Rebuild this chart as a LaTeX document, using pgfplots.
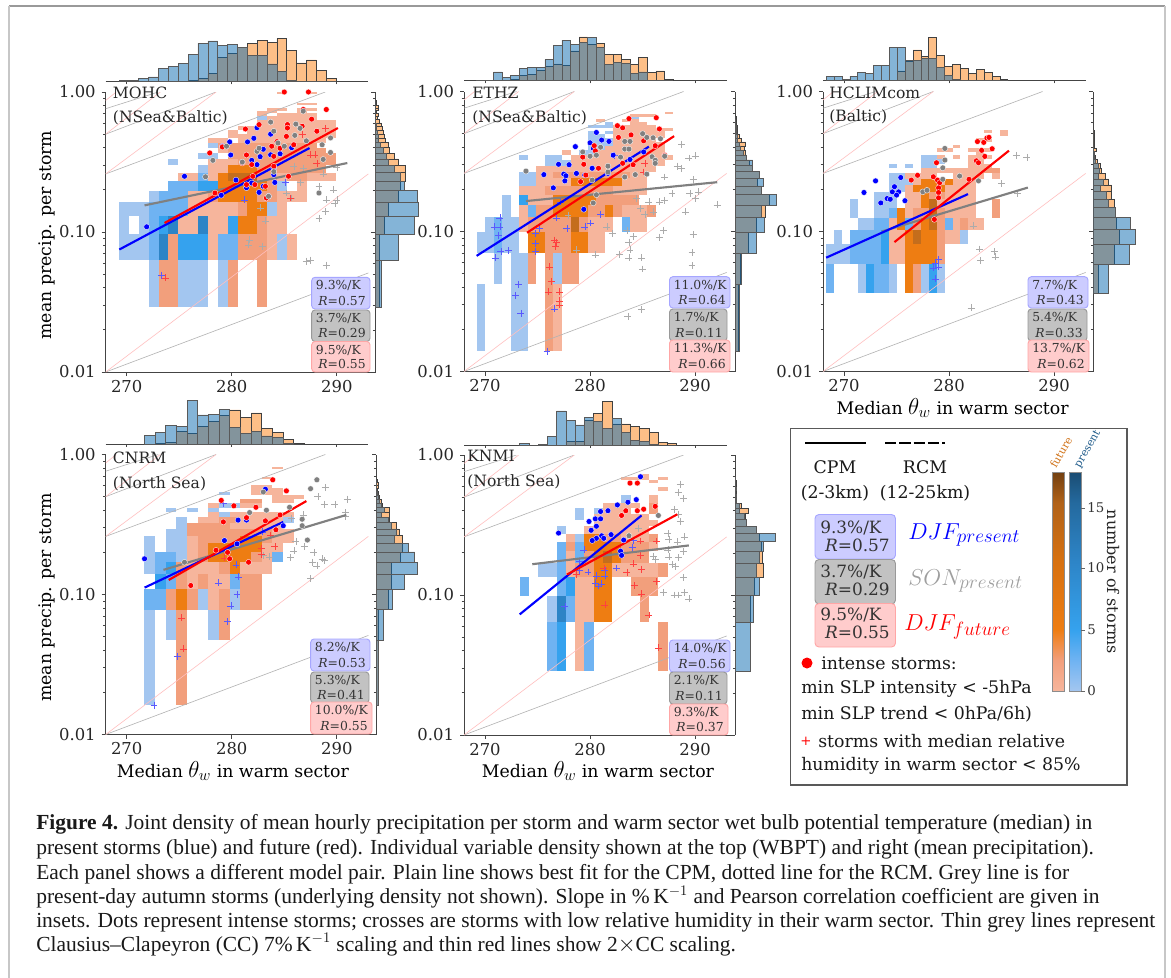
\documentclass[border=0pt]{standalone}
\usepackage{pgfplots}
\pgfplotsset{compat=1.18}
\usepackage{fontspec}
\setmainfont{DejaVu Serif}
\newfontfamily\capfont{Liberation Serif}
\definecolor{ha}{HTML}{A3C6F0}\definecolor{hb}{HTML}{6FB3F2}\definecolor{hc}{HTML}{35A2EE}\definecolor{hh}{HTML}{2D84C6}
\definecolor{hd}{HTML}{F6B59C}\definecolor{he}{HTML}{F29F7C}\definecolor{hf}{HTML}{EE7D12}\definecolor{hg}{HTML}{C46D1C}
\definecolor{histb}{RGB}{11,107,177}\definecolor{histo}{RGB}{253,191,135}
\definecolor{spine}{HTML}{444444}
\newcommand\px{0.75pt}
\newcommand\thw{{\fontsize{17}{18}\selectfont$\theta_w$}}
% one run of cells of a 2-D histogram: row k, columns j1..j2
\newcommand\cellrect[4]{%
 \pgfmathsetmacro\xa{\gx+\gd*#2}\pgfmathsetmacro\xb{\gx+\gd*(#3+1)}%
 \pgfmathsetmacro\ya{\gy+\gh*#1}\pgfmathsetmacro\yb{\gy+\gh*(#1+1)}%
 \edef\tmp{\noexpand\addplot[forget plot,draw=none,fill=#4] coordinates {(\xa,\ya)(\xb,\ya)(\xb,\yb)(\xa,\yb)} -- cycle;}\tmp}
\newcommand\Rw[2]{\foreach \ja/\jb/\cc in {#2}{\cellrect{#1}{\ja}{\jb}{\cc}}}
\newcommand\cclines{%
 \addplot[forget plot,black!30,line width=.45pt] coordinates {(268,.01)(293,.051)};
 \addplot[forget plot,black!30,line width=.45pt] coordinates {(268,.26)(288.9,1)};
 \addplot[forget plot,black!30,line width=.45pt] coordinates {(268,.5)(278.5,1)};
 \addplot[forget plot,black!30,line width=.45pt] coordinates {(268,.76)(273,1)};
 \addplot[forget plot,red!25,line width=.45pt] coordinates {(268,.01)(293,.26)};
 \addplot[forget plot,red!25,line width=.45pt] coordinates {(268,.26)(278.5,1)};
 \addplot[forget plot,red!25,line width=.45pt] coordinates {(268,.5)(273.2,1)};
 \addplot[forget plot,red!25,line width=.45pt] coordinates {(268,.87)(269,1)};}
\pgfplotsset{
 mainax/.style={scale only axis,anchor=south west,width=270*\px,height=280*\px,xmin=268,xmax=293.7,ymin=.01,ymax=1,
  axis x line*=bottom,axis y line*=left,axis line style={-,spine,line width=.7pt},tick style={spine,line width=.6pt},
  tick align=outside,xtick={270,280,290},xticklabels={270,280,290},ytick={.01,.1,1},yticklabels={0.01,0.10,1.00},
  major tick length=3pt,minor tick length=1.8pt,
  ticklabel style={font=\fontsize{12.3}{14}\selectfont,text=black!85},
  xticklabel style={yshift=.5pt},yticklabel style={xshift=-1pt},clip mode=individual},
 topax/.style={scale only axis,anchor=south west,width=262.5*\px,height=46*\px,xmin=268,xmax=293,ymin=0,ymax=14.2,
  axis y line=none,axis x line*=bottom,axis line style={-,spine,line width=.7pt},tick style={spine,line width=.5pt},
  tick align=outside,xtick={270,280,290},xticklabels={},major tick length=2pt},
 rightax/.style={scale only axis,anchor=south west,width=45*\px,height=280*\px,ymin=.01,ymax=1,xmin=0,xmax=14,
  axis x line=none,axis y line*=left,axis line style={-,spine,line width=.7pt},tick style={spine,line width=.5pt},
  tick align=outside,ytick={.01,.1,1},yticklabels={},major tick length=3pt,minor tick length=1.6pt},
 ob/.style={ybar interval,fill=histo,draw=black!75,line width=.5pt,forget plot},
 bb/.style={ybar interval,fill=histb,fill opacity=.5,draw=black!65,line width=.5pt,forget plot},
 orh/.style={xbar interval,fill=histo,draw=black!75,line width=.5pt,forget plot},
 brh/.style={xbar interval,fill=histb,fill opacity=.5,draw=black!65,line width=.5pt,forget plot},
 bfit/.style={blue,line width=1.6pt,forget plot},rfit/.style={red,line width=1.6pt,forget plot},gfit/.style={black!50,line width=1.6pt,forget plot},
 bdot/.style={only marks,mark=*,mark size=2.2pt,mark options={fill=blue,draw=white,line width=.25pt},forget plot},
 rdot/.style={only marks,mark=*,mark size=2.2pt,mark options={fill=red,draw=white,line width=.25pt},forget plot},
 gdot/.style={only marks,mark=*,mark size=2.2pt,mark options={fill=black!50,draw=white,line width=.25pt},forget plot},
 bcr/.style={only marks,mark=+,mark size=2.6pt,mark options={draw=blue!65,line width=.3pt},forget plot},
 rcr/.style={only marks,mark=+,mark size=2.6pt,mark options={draw=red!75,line width=.3pt},forget plot},
 gcr/.style={only marks,mark=+,mark size=2.6pt,mark options={draw=black!33,line width=.3pt},forget plot},
}
\tikzset{ibl/.style={draw=blue!35,fill=blue!20,rounded corners=2.5pt,line width=.7pt},
 igr/.style={draw=black!40,fill=black!24,rounded corners=2.5pt,line width=.7pt},
 ird/.style={draw=red!35,fill=red!20,rounded corners=2.5pt,line width=.7pt},
 plab/.style={anchor=west,font=\fontsize{11.7}{14}\selectfont,text=black!85,inner sep=0pt}}
\newcommand\ibox[7]{\draw[#5] (#1,#3) rectangle (#2,#4);
 \node[anchor=west,inner sep=0pt,font=\fontsize{9.3}{11}\selectfont,text=black!80] at (#1+4,#3+8.5) {#6};
 \node[anchor=east,inner sep=0pt,font=\fontsize{9.3}{11}\selectfont,text=black!80] at (#2-4,#4-8.5) {\textit{R}=#7};}
\pgfdeclareverticalshading{cbfut}{100bp}{color(0bp)=(hd);color(25bp)=(hd);color(32bp)=(he);color(39bp)=(hf);color(55bp)=(hf!90!black);color(68bp)=(hg!90!black);color(75bp)=(black!42!hg);color(100bp)=(black!42!hg)}
\pgfdeclareverticalshading{cbpre}{100bp}{color(0bp)=(ha);color(25bp)=(ha);color(32bp)=(hb);color(39bp)=(hc);color(55bp)=(hh);color(68bp)=(hh!80!black);color(75bp)=(hh!58!black);color(100bp)=(hh!58!black)}
\begin{document}
\begin{tikzpicture}
\path[use as bounding box,fill=white] (0,0) rectangle (1171*\px,-978*\px);
\draw[black!40,line width=1.2pt] (9*\px,-6*\px) -- (1165*\px,-6*\px);
\draw[black!22,line width=1.6pt] (9*\px,-6*\px) -- (9*\px,-978*\px);
\draw[black!22,line width=1.6pt] (1165*\px,-6*\px) -- (1165*\px,-978*\px);
%%%%%%%%%%%%%%%%%%%%%%%%%%%%%%%%%%%%%%%%%%%%%% MOHC
\def\gx{269.27}\def\gd{.94}\def\gy{.0291}\def\gh{.0337}
\begin{axis}[ymode=log,mainax,at={({105.7*\px},{-372*\px})},ylabel={mean precip. per storm},
 ylabel style={at={(axis description cs:-.217,.489)},anchor=center,font=\fontsize{13}{15}\selectfont}]
\Rw{0}{3/3/ha,4/5/he,6/8/ha,10/10/ha,11/11/he,14/14/he}
\Rw{1}{0/2/ha,3/3/hb,4/4/hh,5/5/he,6/8/hc,9/9/hd,10/10/hb,11/11/hb,12/14/he,15/15/hd,16/16/ha,17/17/hd}
\Rw{2}{0/0/ha,2/2/ha,3/3/hb,4/4/hc,5/5/hh,6/7/hd,8/8/hh,9/10/hd,11/11/hc,12/13/hf,14/14/he,15/16/hd}
\Rw{3}{0/2/ha,3/3/hb,4/6/hb,7/9/hd,10/11/hd,12/12/he,13/14/hf,15/15/ha,16/16/hd}
\Rw{4}{3/3/ha,4/6/hb,7/8/hd,9/9/he,10/13/hf,14/15/he,16/16/hd,17/18/hd}
\Rw{5}{5/7/hb,8/9/hc,10/11/hf,12/14/hf,15/15/he,16/16/ha,18/18/hd}
\Rw{6}{6/7/hd,8/8/hb,9/9/hd,10/10/hf,11/13/hg,14/15/he,16/16/hd,17/18/he,19/21/hd}
\Rw{7}{8/8/ha,9/10/hd,11/13/hf,14/16/he,17/20/he}
\Rw{8}{5/5/ha,9/11/hd,12/21/he}
\Rw{9}{8/9/ha,11/21/he}
\Rw{10}{10/10/hd,11/20/he}
\Rw{11}{9/9/ha,10/19/he}
\Rw{12}{9/10/hd,12/20/hd}
\Rw{13}{11/21/hd}
\Rw{14}{11/11/hd,13/21/hd}
\Rw{15}{12/21/hd}
\Rw{16}{14/21/hd}
\Rw{17}{14/21/hd}
\Rw{18}{14/14/ha,15/19/hd}
\Rw{19}{14/14/hd,16/19/hd}
\Rw{20}{14/15/hd,18/18/hd}
\Rw{21}{15/16/hd,18/19/hd}
\Rw{23}{18/19/hd}
\Rw{28}{16/16/hd,19/19/hd}
\cclines
\addplot[gcr] coordinates {(288.3,.125)(288.9,.14)(289,.17)(289.7,.2)(290,.17)(289.8,.16)(287.1,.062)(287.5,.063)(289,.058)(282.9,.079)(281.6,.081)(281.7,.088)(283.2,.12)(282.7,.149)(285.2,.19)(285.7,.175)(286.5,.226)(288.3,.212)(288.7,.26)(290,.29)(285.9,.295)(286.8,.286)};
\addplot[bcr] coordinates {(281.2,.17)(273.3,.049)(285.1,.226)};
\addplot[rcr] coordinates {(273.7,.047)(287.5,.356)(287.9,.356)(288.1,.31)(285.6,.175)(288.9,.55)(286.7,.5)};
\addplot[gfit] coordinates {(271.7,.155)(291,.311)};
\addplot[bfit] coordinates {(269.3,.075)(287.4,.398)};
\addplot[rfit] coordinates {(273.6,.116)(290.1,.553)};
\addplot[bdot] coordinates {(271.9,.109)(275.5,.25)(279.1,.41)(279.8,.44)(279.9,.355)(280.4,.235)(281.5,.44)(282.1,.467)(282.4,.556)(283.7,.5)(283,.39)(282.7,.345)(281.9,.325)(282.4,.303)(283.7,.356)(284.6,.362)(285.7,.4)(284,.286)(284,.257)(284.1,.226)(283,.212)(281.9,.224)(281.4,.207)(282.6,.192)(279,.183)(283.5,.18)};
\addplot[rdot] coordinates {(277.9,.367)(279.1,.405)(281.3,.544)(282.6,.585)(285,1)(285.3,.585)(285.3,.553)(287.3,1)(286.8,.75)(289,.75)(287.6,.64)(286.7,.57)(288.1,.525)(284.3,.442)(285.2,.482)(284.6,.397)(284,.347)(281.4,.355)(281.9,.303)(281,.311)(282,.25)(284,.295)(285.4,.25)(282.2,.218)(281.4,.218)(283.2,.212)(278.4,.19)(283.3,.175)(285.9,.42)(283.8,.41)};
\addplot[gdot] coordinates {(278.2,.325)(277.5,.248)(279.5,.41)(283.7,.61)(284,.525)(282.4,.377)(282.6,.397)(281,.316)(284.4,.432)(285,.41)(286.8,.73)(286.1,.59)(286.5,.55)(286,.49)(287.1,.448)(289.4,.47)(288.6,.42)(289.4,.37)(288.7,.33)(284,.27)(283.5,.18)(288.3,.19)};
\end{axis}
\begin{axis}[topax,at={({105.7*\px},{-81.7*\px})}]
\addplot[ob] table[row sep=\\,header=false,x expr=\coordindex*.94+269.27,y index=0]{0\\0\\0\\0\\.1\\.1\\.2\\.3\\1\\2.5\\7.5\\8.7\\10.5\\11.7\\12.7\\12.2\\13.3\\9.7\\5.8\\6.7\\3.5\\1\\0\\};
\addplot[bb] table[row sep=\\,header=false,x expr=\coordindex*.94+269.27,y index=0]{.3\\.3\\1\\1.5\\4\\4.7\\5.7\\8.3\\11.8\\12.6\\11.2\\11.5\\10.5\\8.2\\8\\5.5\\3.3\\.5\\0\\0\\0\\0\\0\\};
\end{axis}
\begin{axis}[ymode=log,rightax,at={({375*\px},{-372*\px})}]
\addplot[orh] table[row sep=\\,header=false,x index=0,y expr=\coordindex*.0337+.0291]{1.2\\1.5\\3\\4\\7.3\\8\\9.5\\9.5\\7.3\\6\\4.5\\4\\3.3\\3\\2.5\\2.3\\2\\1.3\\.8\\1\\.5\\1\\1\\.5\\.3\\0\\};
\addplot[brh] table[row sep=\\,header=false,x index=0,y expr=\coordindex*.0337+.0291]{2\\7.3\\12.3\\13.5\\13.2\\9.2\\8\\6\\4\\3.5\\2.5\\1.7\\1\\1\\.7\\.5\\.3\\.2\\0\\0\\0\\0\\0\\0\\0\\0\\};
\end{axis}
%%%%%%%%%%%%%%%%%%%%%%%%%%%%%%%%%%%%%%%%%%%%%% ETHZ
\def\gx{269.2}\def\gd{.813}\def\gy{.014}\def\gh{.0282}
\begin{axis}[ymode=log,mainax,at={({464*\px},{-371.5*\px})}]
\Rw{0}{0/0/ha,4/5/ha,8/8/he,9/9/hd}
\Rw{1}{2/2/ha,4/5/ha,6/6/he,8/8/he,9/9/ha,10/10/he,11/11/he}
\Rw{2}{0/1/ha,2/2/hb,3/4/ha,6/7/hf,8/10/he,11/12/hf,13/14/hd}
\Rw{3}{1/1/ha,2/2/hb,3/4/ha,5/5/hd,6/10/he,11/11/hg,12/12/he,13/15/hd,17/17/hb,18/19/hd}
\Rw{4}{3/3/ha,5/5/hd,6/6/hb,7/8/he,9/12/hf,13/14/he,15/15/hf,16/16/he,17/19/hd,20/20/he}
\Rw{5}{3/3/ha,5/5/hc,6/8/hd,9/13/hf,14/18/he}
\Rw{6}{5/7/hd,8/12/he,13/15/he,16/19/hd}
\Rw{7}{5/6/ha,7/10/hd,11/16/hf,17/19/hd}
\Rw{8}{5/6/ha,7/8/hd,9/17/he,18/19/hd}
\Rw{9}{7/20/hd}
\Rw{10}{8/9/ha,10/10/ha,11/21/hd}
\Rw{11}{5/5/ha,8/9/ha,11/22/hd}
\Rw{12}{10/10/hd,12/13/ha,14/21/hd}
\Rw{13}{13/14/ha,15/21/hd}
\Rw{14}{13/15/ha,16/21/hd}
\Rw{15}{13/15/ha,16/20/hd}
\Rw{16}{13/14/ha,16/21/hd}
\Rw{17}{13/13/ha,15/15/ha,16/21/hd}
\Rw{18}{16/22/hd}
\Rw{19}{13/15/ha,16/20/hd}
\Rw{20}{15/15/ha,18/19/hd}
\Rw{21}{14/14/hd,17/18/hd}
\Rw{22}{18/18/ha}
\Rw{23}{18/20/hd}
\Rw{24}{22/22/hd}
\cclines
\addplot[gcr] coordinates {(288.7,.42)(288.3,.293)(288.7,.283)(289.4,.335)(290,.347)(287.1,.245)(287.8,.187)(289.5,.187)(289.8,.235)(290.3,.192)(290,.172)(292.1,.155)(289.1,.138)(287.1,.167)(286.6,.163)(285.6,.163)(284.4,.172)(284.8,.146)(286,.138)(285.2,.132)(287,.102)(286.6,.091)(289.8,.095)(289.7,.071)(289.7,.057)(284.9,.065)(285,.054)(283.7,.065)(282.8,.069)(280.5,.068)(283.8,.074)(283.7,.084)(284.1,.092)(283.5,.102)(282.1,.097)(281.6,.108)(283.6,.0248)(284.9,.0277)(278.7,.074)(277.9,.131)};
\addplot[bcr] coordinates {(271.4,.125)(270.9,.108)(271.4,.108)(271.3,.094)(271,.065)(271.5,.072)(272.2,.073)(273.2,.042)(272.9,.035)(273.4,.026)(274.8,.097)(274.8,.082)(274.8,.072)(275.2,.105)(276.8,.125)(277.8,.105)(279.5,.108)(280,.115)(281,.133)(276.6,.028)(275.9,.014)(277.2,.163)(282.3,.351)};
\addplot[rcr] coordinates {(276.6,.087)(276.8,.084)(276.7,.078)(276.1,.056)(276.3,.044)(276,.037)(277.1,.037)(277.1,.032)(277.1,.03)(285.2,.307)(285.1,.266)};
\addplot[gfit] coordinates {(273.9,.165)(292.1,.225)};
\addplot[bfit] coordinates {(269.2,.067)(285.6,.404)};
\addplot[rfit] coordinates {(274,.098)(288,.48)};
\addplot[bdot] coordinates {(279.4,.144)(276.5,.205)(275.6,.255)(277,.302)(278,.3)(277.5,.257)(277.7,.25)(277.6,.23)(278.7,.26)(279.5,.253)(278.6,.404)(280,.43)(280.6,.51)(281.1,.45)(281.8,.44)(280.3,.393)(280.2,.283)(281.7,.26)(282.2,.351)(283.8,.327)(285.1,.37)};
\addplot[rdot] coordinates {(283.7,.64)(286.3,.65)(282.6,.57)(283.1,.55)(286.6,.54)(283.9,.49)(282.7,.47)(285.1,.444)(280.4,.41)(280.5,.377)(279.3,.34)(280.8,.283)(279.4,.302)(279.1,.227)(279.6,.253)(283.1,.307)(284.1,.3)(287.1,.351)(286.2,.41)};
\addplot[gdot] coordinates {(273.9,.27)(279.3,.37)(281,.4)(280,.345)(280.6,.351)(281.7,.293)(282.9,.34)(283.3,.44)(283.8,.44)(283.3,.388)(283.7,.388)(285,.5)(285.4,.47)(286,.467)(286.7,.46)(285.9,.342)(286.2,.323)(286.2,.307)(287.1,.345)(285.4,.257)(284.3,.255)(283.3,.245)(280.3,.16)(280.6,.183)(280.2,.233)(281.7,.266)};
\end{axis}
\begin{axis}[topax,at={({464*\px},{-80.7*\px})}]
\addplot[ob] table[row sep=\\,header=false,x expr=\coordindex*.813+269.2,y index=0]{0\\0\\.2\\.1\\.3\\1.7\\2\\3.3\\4.5\\5.2\\4.7\\9.2\\13.5\\11.2\\11.4\\8\\8.2\\6.5\\4.9\\7.2\\2.5\\3\\.4\\0\\};
\addplot[bb] table[row sep=\\,header=false,x expr=\coordindex*.813+269.2,y index=0]{.2\\.1\\2.7\\1\\1.7\\3.8\\4\\4\\6.5\\11\\12.5\\11.2\\11.7\\13.4\\10.2\\4.9\\5.7\\5.4\\2.2\\2.7\\.2\\0\\0\\0\\};
\end{axis}
\begin{axis}[ymode=log,rightax,at={({735*\px},{-371.5*\px})}]
\addplot[orh] table[row sep=\\,header=false,x index=0,y expr=\coordindex*.0282+.014]{1\\1.7\\4.3\\6.5\\9.5\\10.7\\8.2\\7\\7.5\\5.5\\4.5\\3.5\\3.3\\2.8\\3.3\\2\\1.5\\.8\\.7\\.6\\.4\\.5\\.4\\0\\};
\addplot[brh] table[row sep=\\,header=false,x index=0,y expr=\coordindex*.0282+.014]{1.3\\2\\6.5\\9.2\\8.2\\12.8\\8.3\\8.8\\7.5\\5.5\\5.5\\3.5\\2.5\\1.8\\1.5\\.8\\.8\\.5\\.4\\.4\\.2\\.1\\0\\0\\};
\end{axis}
%%%%%%%%%%%%%%%%%%%%%%%%%%%%%%%%%%%%%%%%%%%%%% HCLIMcom
\def\gx{268.3}\def\gd{.752}\def\gy{.0361}\def\gh{.0224}
\begin{axis}[ymode=log,mainax,at={({823*\px},{-371.5*\px})},xlabel={Median \thw{} in warm sector},
 xlabel style={at={(axis description cs:.48,-.131)},anchor=center,font=\fontsize{13}{15}\selectfont}]
\Rw{0}{0/0/hb,4/4/ha,5/5/hc,6/7/hb,8/8/ha,10/10/hf,11/11/he,12/12/ha,13/13/hc,14/14/ha}
\Rw{1}{0/2/ha,3/5/hb,6/6/hb,7/7/hc,8/9/hd,10/13/hf,14/14/he}
\Rw{2}{1/1/ha,3/4/hb,5/6/hb,7/7/hc,8/9/hd,10/10/hf,11/11/hg,12/13/hf,14/14/he,15/16/hd,17/17/ha}
\Rw{3}{4/5/ha,6/7/hb,8/9/hd,9/9/hf,10/10/hb,11/11/he,12/12/hf,13/13/hg,14/14/he,15/15/hb,16/16/hd,17/17/he,18/19/hd}
\Rw{4}{3/3/ha,6/7/ha,8/8/hb,9/9/hf,10/10/hd,11/12/he,13/13/hg,14/14/he,15/18/hd,21/21/he}
\Rw{5}{3/3/ha,6/8/ha,10/11/hd,12/12/hf,13/13/hg,14/18/hd,21/21/he}
\Rw{6}{6/8/ha,10/11/hd,12/12/hf,13/14/he,15/18/hd}
\Rw{7}{8/9/ha,10/10/hd,11/12/hf,13/14/hf,15/18/hd}
\Rw{8}{8/10/ha,11/11/hd,12/13/hf,14/14/hd,15/15/hf,16/18/hd}
\Rw{9}{8/9/ha,10/13/hd,16/19/hd,21/21/hd}
\Rw{10}{12/15/hd,16/19/hd,20/21/he}
\Rw{11}{8/8/ha,10/10/ha,12/13/ha,18/20/hd}
\Rw{12}{12/14/ha,18/19/hd}
\Rw{13}{12/13/ha,14/14/hd,16/16/hd,18/20/hd}
\Rw{14}{19/19/hd}
\Rw{15}{14/15/hd,18/20/hd}
\Rw{16}{16/16/hd}
\Rw{18}{19/20/hd}
\Rw{20}{22/22/hd}
\Rw{21}{20/20/hd,22/22/hd}
\cclines
\addplot[gcr] coordinates {(286.4,.35)(287.4,.338)(285,.22)(286.5,.187)(282.3,.11)(282.9,.075)(283,.062)(284.3,.072)(284.4,.066)(282.1,.0285)};
\addplot[bcr] coordinates {(279,.063)(278.7,.059)(279,.056)(278.5,.055)(278.7,.046)};
\addplot[gfit] coordinates {(273.6,.1)(287.5,.206)};
\addplot[bfit] coordinates {(268.3,.065)(281.8,.185)};
\addplot[rfit] coordinates {(274.8,.084)(285.7,.378)};
\addplot[bdot] coordinates {(273,.23)(271.9,.19)(275.4,.243)(274.8,.209)(274.6,.192)(275.2,.192)(275,.182)(274.1,.172)(274.4,.17)(273.5,.16)(275.8,.166)};
\addplot[rdot] coordinates {(282.7,.439)(283.3,.433)(283.6,.465)(283.8,.47)(283.1,.38)(284.1,.39)(283.4,.344)(282.6,.32)(282.8,.31)(281.9,.236)(278.8,.31)(277,.252)(276.4,.233)(278.5,.246)(278.9,.233)(279.1,.223)(279,.205)(279,.19)(279,.174)(278.6,.122)};
\addplot[gdot] coordinates {(279.6,.392)(279.6,.324)(279.4,.285)(279.4,.236)(281,.249)(282.8,.23)(277.5,.192)(277.9,.197)};
\end{axis}
\begin{axis}[topax,at={({823*\px},{-80.7*\px})}]
\addplot[ob] table[row sep=\\,header=false,x expr=\coordindex*.752+268.3,y index=0]{0\\0\\0\\0\\0\\0\\0\\0\\.2\\3\\6\\9.5\\7.5\\13.4\\7.9\\4.4\\4.9\\3.7\\2.2\\3.4\\2.5\\1.2\\.5\\0\\};
\addplot[bb] table[row sep=\\,header=false,x expr=\coordindex*.752+268.3,y index=0]{1.2\\1.2\\.5\\1.4\\2.5\\2.2\\4.7\\4.7\\10.2\\10.2\\6.2\\6.2\\7\\7\\4\\1.7\\.5\\.2\\0\\0\\0\\0\\0\\0\\};
\end{axis}
\begin{axis}[ymode=log,rightax,at={({1093.3*\px},{-371.5*\px})}]
\addplot[orh] table[row sep=\\,header=false,x index=0,y expr=\coordindex*.0224+.0361]{1.7\\6.5\\8\\7.2\\7\\6.5\\5.5\\5.7\\4.8\\3.7\\2.5\\2.3\\1.2\\.5\\.3\\1\\.2\\.2\\.2\\.2\\.3\\.3\\0\\};
\addplot[brh] table[row sep=\\,header=false,x index=0,y expr=\coordindex*.0224+.0361]{4.7\\11.2\\13\\11.5\\7\\4.7\\4\\2.2\\3\\1.5\\1.8\\1.5\\.5\\.4\\.2\\.1\\0\\0\\0\\0\\0\\0\\0\\};
\end{axis}
%%%%%%%%%%%%%%%%%%%%%%%%%%%%%%%%%%%%%%%%%%%%%% CNRM
\def\gx{271.68}\def\gd{1.016}\def\gy{.0162}\def\gh{.0309}
\begin{axis}[ymode=log,mainax,at={({105.7*\px},{-734.5*\px})},ylabel={mean precip. per storm},
 ylabel style={at={(axis description cs:-.217,.489)},anchor=center,font=\fontsize{13}{15}\selectfont},
 xlabel={Median \thw{} in warm sector},
 xlabel style={at={(axis description cs:.471,-.131)},anchor=center,font=\fontsize{13}{15}\selectfont}]
\Rw{0}{0/0/ha,3/3/he}
\Rw{1}{0/0/ha,2/2/ha,3/3/he,6/6/ha,7/7/he}
\Rw{2}{0/1/hb,2/2/he,3/3/hf,4/4/he,5/5/ha,6/6/hd,7/7/he,8/8/ha,9/10/he}
\Rw{3}{1/1/hc,2/2/hb,3/3/he,4/4/hd,5/5/he,6/7/hd,8/8/hb,9/10/he}
\Rw{4}{0/0/ha,1/1/hb,2/2/hc,3/3/he,4/6/hd,7/7/he,8/8/hf,9/11/hd}
\Rw{5}{0/0/ha,1/2/hb,3/3/ha,4/4/hd,5/5/he,6/6/hf,7/9/hf,10/10/he,11/11/hd,12/12/hb}
\Rw{6}{0/0/ha,2/3/ha,4/4/hd,5/5/he,6/10/hf,11/12/hd}
\Rw{7}{0/0/ha,2/3/ha,4/4/hd,5/8/he,9/10/hf,11/11/he,12/13/hd}
\Rw{8}{2/3/ha,4/11/he,12/13/hd}
\Rw{9}{3/3/ha,4/7/he,8/12/hd}
\Rw{10}{3/3/ha,5/6/hd,7/8/he,9/12/hd,13/13/ha}
\Rw{11}{6/6/hd,7/7/ha,8/13/hd}
\Rw{12}{2/2/ha,4/4/ha,6/6/ha}
\Rw{13}{6/6/hd,7/8/ha,9/10/hd}
\Rw{14}{9/10/he,12/13/hd}
\Rw{15}{12/14/hd}
\Rw{16}{7/7/ha,10/12/hd}
\Rw{17}{10/12/hd}
\Rw{18}{10/11/hd}
\Rw{21}{11/11/hd}
\Rw{25}{12/12/hd}
\cclines
\addplot[gcr] coordinates {(288.9,.58)(288.2,.5)(288.8,.44)(289.8,.44)(291,.48)(290.8,.385)(290.8,.36)(285.7,.35)(286.8,.37)(286.1,.24)(286.9,.22)(285.9,.205)(285.6,.184)(287.8,.2)(287.7,.17)(288.1,.16)(288.6,.18)(288.8,.175)(287.5,.13)(283.6,.186)(283,.19)};
\addplot[bcr] coordinates {(272.6,.0162)(279.6,.064)(279.9,.083)(280.5,.1)(280.6,.134)(280.4,.163)(278.7,.121)(274.8,.036)(282.9,.28)(279.2,.45)};
\addplot[rcr] coordinates {(275.2,.068)(275.4,.041)(279.3,.183)(282.8,.193)(284.1,.22)(283.7,.265)(282.8,.213)};
\addplot[gfit] coordinates {(273.5,.15)(290.9,.37)};
\addplot[bfit] coordinates {(271.7,.112)(284.9,.33)};
\addplot[rfit] coordinates {(274,.127)(287.1,.465)};
\addplot[bdot] coordinates {(271.7,.18)(279.3,.243)(280.6,.34)(281.4,.34)(283.2,.565)(280.5,.23)(284.9,.31)};
\addplot[rdot] coordinates {(283.9,.66)(285.2,.55)(279,.47)(280.2,.43)(282.3,.42)(279.2,.33)(281.4,.354)(284.6,.37)(284.2,.29)(283.2,.336)(278.5,.207)(279.6,.2)(279.8,.18)(281.6,.17)(276.1,.116)};
\addplot[gdot] coordinates {(288.1,.66)(287.5,.57)(283,.54)(285.5,.42)(283.3,.4)(281.7,.385)(286.7,.345)(286.7,.31)(287.2,.245)(275.5,.17)};
\end{axis}
\begin{axis}[topax,at={({105.7*\px},{-444*\px})}]
\addplot[ob] table[row sep=\\,header=false,x expr=\coordindex*1.016+271.68,y index=0]{0\\.1\\.5\\3.8\\3.3\\5.5\\7\\8.8\\10.5\\8.3\\9.6\\4.7\\3.5\\1.5\\.3\\0\\};
\addplot[bb] table[row sep=\\,header=false,x expr=\coordindex*1.016+271.68,y index=0]{2.7\\3.7\\5.7\\5.5\\13.5\\9\\9.2\\10.7\\5.2\\3.3\\4\\2.5\\2\\.3\\0\\0\\};
\end{axis}
\begin{axis}[ymode=log,rightax,at={({376*\px},{-734.5*\px})}]
\addplot[orh] table[row sep=\\,header=false,x index=0,y expr=\coordindex*.0309+.0162]{.7\\.7\\3.7\\4.7\\4.9\\7.7\\8.2\\8.2\\7.2\\6.4\\4\\4\\4.2\\2\\1.7\\1\\.8\\.5\\.6\\.6\\.3\\0\\};
\addplot[brh] table[row sep=\\,header=false,x index=0,y expr=\coordindex*.0309+.0162]{.7\\2.2\\5.2\\8.7\\13\\12\\10\\5.7\\6.2\\4.7\\3.7\\1.7\\2.7\\1.7\\1\\.7\\.3\\.1\\.1\\.2\\0\\0\\};
\end{axis}
%%%%%%%%%%%%%%%%%%%%%%%%%%%%%%%%%%%%%%%%%%%%%% KNMI
\def\gx{273.3}\def\gd{.88}\def\gy{.0286}\def\gh{.0352}
\begin{axis}[ymode=log,mainax,at={({464*\px},{-735*\px})},xlabel={Median \thw{} in warm sector},
 xlabel style={at={(axis description cs:.496,-.129)},anchor=center,font=\fontsize{13}{15}\selectfont}]
\Rw{0}{3/3/hb,4/4/hc,6/6/hd,7/7/hb,15/15/he}
\Rw{1}{3/3/ha,4/4/hh,5/5/hb,6/7/hd,8/9/hf,13/13/he}
\Rw{2}{0/0/hb,4/4/hb,5/5/hc,6/7/hd,8/9/hf,12/14/he}
\Rw{3}{2/3/ha,4/4/hb,5/5/hd,6/7/he,8/9/hf,10/14/hd,15/15/he}
\Rw{4}{4/4/hb,5/5/hd,6/6/hb,7/7/he,8/8/hf,9/9/hg,10/10/hf,11/13/he}
\Rw{5}{4/4/hb,5/5/he,6/6/hb,7/10/hf,11/13/he,14/14/hd}
\Rw{6}{5/5/hd,6/6/ha,7/8/hf,9/10/he,11/13/hd,14/14/he}
\Rw{7}{4/4/ha,7/7/hd,8/13/hd}
\Rw{8}{8/12/hd,13/14/hd}
\Rw{9}{6/6/ha,8/13/hd}
\Rw{10}{6/6/ha,8/8/ha,9/11/hd,14/14/he}
\Rw{11}{9/12/hd,14/14/he}
\Rw{12}{11/11/ha,14/14/hd}
\Rw{13}{11/11/ha,14/14/hd}
\Rw{15}{15/15/hd}
\Rw{17}{14/14/hd}
\Rw{18}{11/13/hd,15/15/hd}
\Rw{19}{13/13/hd}
\cclines
\addplot[gcr] coordinates {(288.6,.62)(288.4,.54)(288.9,.49)(288,.41)(288.4,.377)(288.6,.336)(284.6,.3)(287.4,.275)(288.98,.26)(287.5,.25)(287.4,.21)(288.3,.24)(288.9,.206)(288.4,.185)(287.5,.187)(287.8,.165)(288.1,.16)(286,.19)(286.2,.18)(288.9,.133)(288,.1)(288.4,.1)(289,.104)(289.4,.094)(287,.104)};
\addplot[bcr] coordinates {(279.4,.21)(284,.22)(284.1,.247)(279,.175)(279.8,.146)(279,.15)(280.6,.137)(281.4,.15)(281.4,.137)(281.1,.12)(280.5,.122)(280.8,.116)(277.6,.083)(282.5,.156)};
\addplot[rcr] coordinates {(286.5,.042)(285.6,.072)(281.4,.085)(284.9,.102)(284.2,.117)(286.3,.125)(283.5,.145)(284.9,.153)(284.1,.167)(284.8,.193)(286.3,.243)(284.8,.243)(278.7,.14)(281.3,.156)};
\addplot[gfit] coordinates {(274.5,.166)(289.4,.226)};
\addplot[bfit] coordinates {(273.3,.0727)(284.9,.37)};
\addplot[rfit] coordinates {(277.8,.14)(288.3,.377)};
\addplot[bdot] coordinates {(284.8,.7)(284.4,.48)(283.6,.46)(282.6,.44)(281.7,.4)(281,.395)(280.5,.35)(281,.35)(279.9,.335)(280.6,.31)(280.1,.29)(277,.277)(281.1,.265)(280.6,.254)(280.2,.245)(281.3,.254)(282,.27)(282.9,.206)(283,.192)(283.2,.247)};
\addplot[rdot] coordinates {(283.8,.63)(284.5,.63)(283.4,.4)(284.5,.4)(285.1,.41)(283,.37)(286.2,.43)};
\addplot[gdot] coordinates {(283.7,.265)(286.5,.37)};
\end{axis}
\begin{axis}[topax,at={({464*\px},{-445*\px})}]
\addplot[ob] table[row sep=\\,header=false,x expr=\coordindex*.88+273.3,y index=0]{0\\0\\0\\0\\0\\1\\1\\7.5\\9.8\\13.5\\6.5\\6.5\\5.7\\5\\4\\.7\\.5\\0\\};
\addplot[bb] table[row sep=\\,header=false,x expr=\coordindex*.88+273.3,y index=0]{.5\\0\\.1\\2.7\\10.5\\7.5\\6.2\\8.5\\7.2\\5\\8.2\\3.8\\1.5\\1\\.3\\0\\0\\0\\};
\end{axis}
\begin{axis}[ymode=log,rightax,at={({735*\px},{-735*\px})}]
\addplot[orh] table[row sep=\\,header=false,x index=0,y expr=\coordindex*.0352+.0286]{.2\\4.7\\6\\8.8\\8.5\\8.2\\7.5\\6.7\\3.5\\3.3\\4.3\\2\\.5\\.4\\.3\\.5\\.3\\.3\\.2\\0\\};
\addplot[brh] table[row sep=\\,header=false,x index=0,y expr=\coordindex*.0352+.0286]{4.7\\5.8\\7.5\\6.7\\7.5\\8.7\\12.7\\6.7\\3.5\\3\\1.3\\1.3\\.5\\.5\\.2\\.3\\.2\\.2\\.1\\0\\};
\end{axis}
%%%%%%%%%%%%%%%%%%%%%%%%%%%%%%%%%%%%%%%%%%%%%% annotations in pixel units
\begin{scope}[x=\px,y=-\px]
\node[plab] at (112.7,92.5) {MOHC};\node[plab] at (112.7,118) {(NSea\&Baltic)};
\node[plab] at (472,92.5) {ETHZ};\node[plab] at (472,118) {(NSea\&Baltic)};
\node[plab] at (829,92.5) {HCLIMcom};\node[plab] at (829,117) {(Baltic)};
\node[plab] at (112.7,458) {CNRM};\node[plab] at (112.7,484) {(North Sea)};
\node[plab] at (467,456) {KNMI};\node[plab] at (467,482) {(North Sea)};
\ibox{311.7}{370}{277.3}{309}{ibl}{9.3\%/K}{0.57}
\ibox{311.7}{370}{310}{341.5}{igr}{3.7\%/K}{0.29}
\ibox{311.7}{370}{341.5}{372}{ird}{9.5\%/K}{0.55}
\ibox{669.5}{730}{276.7}{308}{ibl}{11.0\%/K}{0.64}
\ibox{669.5}{727}{309}{341}{igr}{1.7\%/K}{0.11}
\ibox{669.5}{730}{340}{372}{ird}{11.3\%/K}{0.66}
\ibox{1028}{1088}{276.7}{308}{ibl}{7.7\%/K}{0.43}
\ibox{1028}{1087}{309}{341}{igr}{5.4\%/K}{0.33}
\ibox{1028}{1089}{340}{372}{ird}{13.7\%/K}{0.62}
\ibox{310.7}{370}{639}{671}{ibl}{8.2\%/K}{0.53}
\ibox{310.7}{369}{672}{703}{igr}{5.3\%/K}{0.41}
\ibox{310.7}{372}{702}{734}{ird}{10.0\%/K}{0.55}
\ibox{669.5}{730}{640}{672}{ibl}{14.0\%/K}{0.56}
\ibox{669.5}{727}{672}{704}{igr}{2.1\%/K}{0.11}
\ibox{669.5}{728}{704}{735}{ird}{9.3\%/K}{0.37}
% legend panel
\draw[black!65,line width=.8pt] (790.5,428.5) rectangle (1127,785);
\draw[black,line width=2.2pt] (805,443) -- (866,443);
\draw[black,line width=2.2pt,dash pattern=on 8.5pt off 2.2pt] (885,443) -- (945,443);
\begin{scope}[every node/.style={font=\fontsize{13}{15}\selectfont,inner sep=0pt,text=black!90}]
\node at (835,467.5) {CPM};\node at (835,493) {(2-3km)};
\node at (925,467.5) {RCM};\node at (925,493) {(12-25km)};
\draw[blue!35,fill=blue!20,rounded corners=3pt,line width=.7pt] (815,514.5) rectangle (895.5,559);
\draw[black!40,fill=black!24,rounded corners=3pt,line width=.7pt] (815,559.5) rectangle (895.5,604);
\draw[red!35,fill=red!20,rounded corners=3pt,line width=.7pt] (815,603.5) rectangle (895.5,647);
\node[anchor=west,text=black!80,font=\fontsize{12.7}{15}\selectfont] at (820,528) {9.3\%/K};\node[anchor=east,text=black!80,font=\fontsize{12.7}{15}\selectfont] at (890,545) {\textit{R}=0.57};
\node[anchor=west,text=black!80,font=\fontsize{12.7}{15}\selectfont] at (820,572) {3.7\%/K};\node[anchor=east,text=black!80,font=\fontsize{12.7}{15}\selectfont] at (890,589) {\textit{R}=0.29};
\node[anchor=west,text=black!80,font=\fontsize{12.7}{15}\selectfont] at (820,615) {9.5\%/K};\node[anchor=east,text=black!80,font=\fontsize{12.7}{15}\selectfont] at (890,632) {\textit{R}=0.55};
\node[anchor=west,text=blue,font=\fontsize{19}{21}\selectfont] at (908,535) {$DJF_{present}$};
\node[anchor=west,text=black!38,font=\fontsize{19}{21}\selectfont] at (908,581) {$SON_{present}$};
\node[anchor=west,text=red,font=\fontsize{19}{21}\selectfont] at (904,627) {$DJF_{future}$};
\fill[red] (807,663) circle (5.5);
\node[anchor=west] at (821,663) {intense storms:};
\node[anchor=west] at (801,689) {min SLP intensity < -5hPa};
\node[anchor=west] at (801,714) {min SLP trend < 0hPa/6h)};
\node[text=red,font=\fontsize{10}{11}\selectfont] at (806,741) {+};
\node[anchor=west] at (818,741) {storms with median relative};
\node[anchor=west] at (801,766) {humidity in warm sector < 85\%};
\end{scope}
\shade[shading=cbfut] (1052,472) rectangle (1064,691);
\draw[black!45,line width=.6pt] (1052,472) rectangle (1064,691);
\shade[shading=cbpre] (1069.5,472) rectangle (1081,691);
\draw[black!45,line width=.6pt] (1069.5,472) rectangle (1081,691);
\foreach \yy/\tl in {691/0,630/5,568/10,508/15}{
 \draw[black!60,line width=.5pt] (1081,\yy) -- (1085,\yy);
 \node[anchor=west,inner sep=0pt,text=black!80,font=\fontsize{10}{12}\selectfont] at (1087,\yy) {\tl};}
\node[rotate=-90,inner sep=0pt,font=\fontsize{12}{14}\selectfont,text=black!85] at (1113,582) {number of storms};
\node[rotate=60,inner sep=0pt,font=\fontsize{8}{9}\selectfont,text=hg!80!orange] at (1061,452) {future};
\node[rotate=60,inner sep=0pt,font=\fontsize{8}{9}\selectfont,text=hh!70!black] at (1088,449) {present};
% caption
\begin{scope}[every node/.style={anchor=base west,inner sep=0pt,font=\capfont\fontsize{16.1}{18}\selectfont,text=black!90}]
\node at (36,829.7) {\textbf{Figure 4.} Joint density of mean hourly precipitation per storm and warm sector wet bulb potential temperature (median) in};
\node at (36,854.5) {present storms (blue) and future (red). Individual variable density shown at the top (WBPT) and right (mean precipitation).};
\node at (36,879) {Each panel shows a different model pair. Plain line shows best fit for the CPM, dotted line for the RCM. Grey line is for};
\node at (36,903.5) {present-day autumn storms (underlying density not shown). Slope in \%\,K$^{-1}$ and Pearson correlation coefficient are given in};
\node at (36,927) {insets. Dots represent intense storms; crosses are storms with low relative humidity in their warm sector. Thin grey lines represent};
\node at (36,951) {Clausius–Clapeyron (CC) 7\%\,K$^{-1}$ scaling and thin red lines show 2$\times$CC scaling.};
\end{scope}
\end{scope}
\end{tikzpicture}
\end{document}
